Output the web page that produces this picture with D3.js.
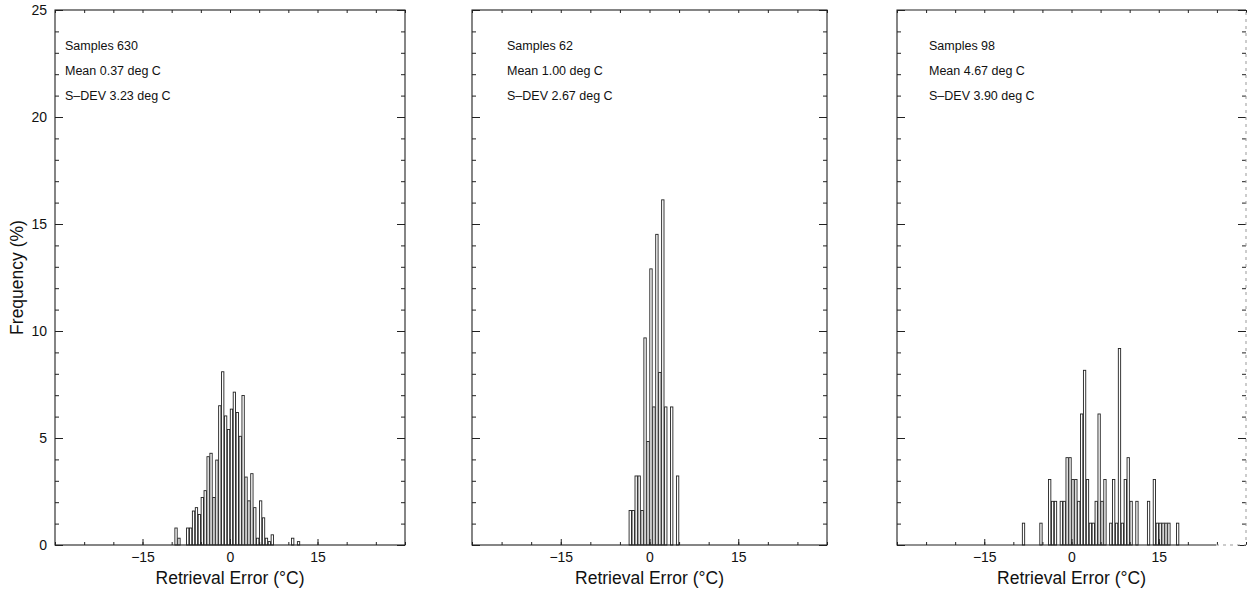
<!DOCTYPE html>
<html>
<head>
<meta charset="utf-8">
<script src="https://cdn.jsdelivr.net/npm/d3@7/dist/d3.min.js"></script>
<style>
  html, body { margin: 0; padding: 0; background: #fff; }
  svg { display: block; font-family: "Liberation Sans", Arial, Helvetica, sans-serif; }
</style>
</head>
<body>
<svg id="chart" width="1249" height="592"></svg>
<script>
// ---------------- data ----------------
const sampleCounts = [630, 62, 98];
const meanLabels = ["0.37", "1.00", "4.67"];
const sdevLabels = ["3.23", "2.67", "3.90"];
const binWidth = 0.5;                 // deg C
const firstBinStart = [-9.5, -3.5, -8.5];
// number of samples per 0.5 deg C bin, starting at firstBinStart
const panel1Counts = [5,2,0,0,5,5,10,11,9,14,16,26,27,14,25,41,51,38,34,40,45,39,32,44,20,13,21,11,2,13,8,2,1,3,0,0,0,0,0,0,2,0,1];
const panel2Counts = [1,1,2,2,1,6,3,8,4,9,5,10,4,0,4,0,2];
const panel3Counts = [1,0,0,0,0,0,1,0,0,3,2,2,0,2,2,4,4,3,3,2,6,8,3,1,1,2,6,2,3,0,1,3,1,9,1,3,4,2,0,2,0,0,0,2,0,3,1,1,1,1,1,0,0,1];
const xDomain = [-30, 30];
const yDomain = [0, 25];
const xMajorTicks = [-15, 0, 15];
const xMinorTicks = [-30,-25,-20,-15,-10,-5,0,5,10,15,20,25,30];
const yMajorTicks = [0, 5, 10, 15, 20, 25];
const yMinorTicks = d3.range(0, 26, 1);
const yTitle = "Frequency (%)";
const xTitle = "Retrieval Error (°C)";

// ---------------- layout ----------------
const allCounts = [panel1Counts, panel2Counts, panel3Counts];
const panels = [
  { left: 55,  right: 405, textX: 10 },
  { left: 472, right: 827, textX: 35 },
  { left: 897, right: 1246, textX: 32 }
];
const plotTop = 10, plotBottom = 545;

const svg = d3.select("#chart");
const y = d3.scaleLinear().domain(yDomain).range([plotBottom, plotTop]);

panels.forEach((p, i) => {
  const x = d3.scaleLinear().domain(xDomain).range([p.left, p.right]);
  const g = svg.append("g");

  // bars
  const bins = allCounts[i].map((c, k) => ({
    x0: firstBinStart[i] + k * binWidth,
    freq: c / sampleCounts[i] * 100
  })).filter(d => d.freq > 0);

  g.selectAll("rect.bar").data(bins).enter().append("rect")
    .attr("class", "bar")
    .attr("x", d => x(d.x0) + 0.3)
    .attr("width", d => x(d.x0 + binWidth) - x(d.x0) - 0.6)
    .attr("y", d => y(d.freq))
    .attr("height", d => y(0) - y(d.freq))
    .attr("fill", "#fff")
    .attr("stroke", "#222")
    .attr("stroke-width", 0.9);

  // bottom axis (inward ticks)
  const axB = g.append("g").attr("transform", `translate(0,${plotBottom})`)
    .call(d3.axisBottom(x).tickValues(xMinorTicks).tickSize(-3).tickFormat(""));
  axB.select(".domain").remove();
  const axBM = g.append("g").attr("transform", `translate(0,${plotBottom})`)
    .call(d3.axisBottom(x).tickValues(xMajorTicks).tickSize(-6).tickPadding(7));
  axBM.select(".domain").remove();
  axBM.selectAll("text").attr("font-size", 14).attr("fill", "#111")
    .attr("font-family", "Liberation Sans, Arial, sans-serif");

  // top axis
  const axT = g.append("g").attr("transform", `translate(0,${plotTop})`)
    .call(d3.axisTop(x).tickValues(xMinorTicks).tickSize(-3).tickFormat(""));
  axT.select(".domain").remove();

  // left axis
  const axL = g.append("g").attr("transform", `translate(${p.left},0)`)
    .call(d3.axisLeft(y).tickValues(yMinorTicks).tickSize(-4).tickFormat(""));
  axL.select(".domain").remove();
  const axLM = g.append("g").attr("transform", `translate(${p.left},0)`)
    .call(d3.axisLeft(y).tickValues(yMajorTicks).tickSize(-8).tickPadding(8)
      .tickFormat(i === 0 ? d3.format("d") : ""));
  axLM.select(".domain").remove();
  axLM.selectAll("text").attr("font-size", 14).attr("fill", "#111")
    .attr("font-family", "Liberation Sans, Arial, sans-serif");

  // right axis
  const axR = g.append("g").attr("transform", `translate(${p.right},0)`)
    .call(d3.axisRight(y).tickValues(yMinorTicks).tickSize(-4).tickFormat(""));
  axR.select(".domain").remove();
  const axRM = g.append("g").attr("transform", `translate(${p.right},0)`)
    .call(d3.axisRight(y).tickValues(yMajorTicks).tickSize(-8).tickFormat(""));
  axRM.select(".domain").remove();

  g.selectAll(".tick line").attr("stroke", "#222").attr("stroke-width", 1);

  // frame
  if (i < 2) {
    g.append("rect")
      .attr("x", p.left).attr("y", plotTop)
      .attr("width", p.right - p.left).attr("height", plotBottom - plotTop)
      .attr("fill", "none").attr("stroke", "#222").attr("stroke-width", 1.1);
  } else {
    g.append("path")
      .attr("d", `M${p.right},${plotTop}H${p.left}V${plotBottom}H${p.right - 30}`)
      .attr("fill", "none").attr("stroke", "#222").attr("stroke-width", 1.1);
    g.append("path")
      .attr("d", `M${p.right - 30},${plotBottom}H${p.right}V${plotTop}`)
      .attr("fill", "none").attr("stroke", "#999").attr("stroke-width", 1)
      .attr("stroke-dasharray", "3,4");
  }

  // annotation
  const tx = p.left + p.textX;
  const lines = [
    `Samples ${sampleCounts[i]}`,
    `Mean ${meanLabels[i]} deg C`,
    `S\u2013DEV ${sdevLabels[i]} deg C`
  ];
  g.selectAll("text.ann").data(lines).enter().append("text")
    .attr("class", "ann")
    .attr("x", tx)
    .attr("y", (d, k) => 50 + k * 25)
    .attr("font-size", 12.5)
    .attr("fill", "#111")
    .text(d => d);

  // x title
  g.append("text")
    .attr("x", x(0))
    .attr("y", 584)
    .attr("text-anchor", "middle")
    .attr("font-size", 17.5)
    .attr("fill", "#111")
    .text(xTitle);
});

// y title
svg.append("text")
  .attr("transform", `translate(23,${(plotTop + plotBottom) / 2}) rotate(-90)`)
  .attr("text-anchor", "middle")
  .attr("font-size", 17.5)
  .attr("fill", "#111")
  .text(yTitle);
</script>
</body>
</html>
